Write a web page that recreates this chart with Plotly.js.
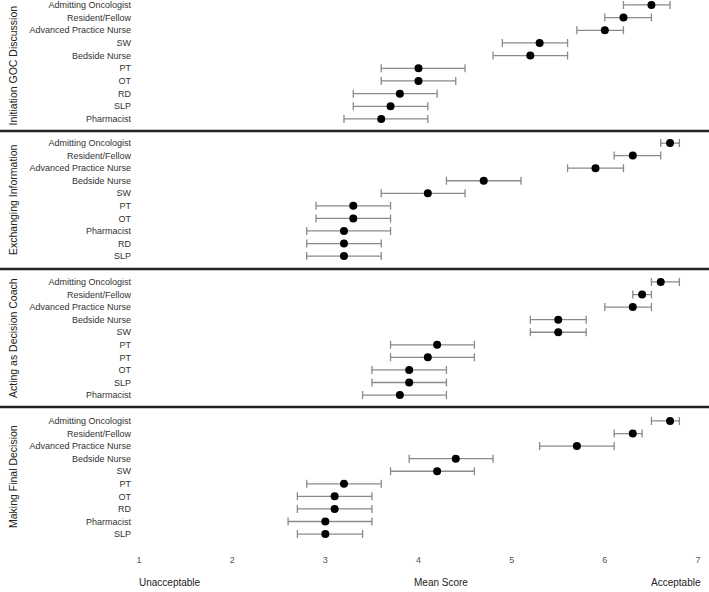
<!DOCTYPE html>
<html>
<head>
<meta charset="utf-8">
<script src="https://cdn.plot.ly/plotly-3.0.1.min.js"></script>
<style>html,body{margin:0;padding:0;background:#fff;}#chart{width:709px;height:592px;}</style>
</head>
<body>
<div id="chart"></div>
<script>
// Panel titles
const panelTitles = ["Initiation GOC Discussion", "Exchanging Information", "Acting as Decision Coach", "Making Final Decision"];

// Panel 1: Initiation GOC Discussion
const roles1 = ["Admitting Oncologist", "Resident/Fellow", "Advanced Practice Nurse", "SW", "Bedside Nurse", "PT", "OT", "RD", "SLP", "Pharmacist"];
const mean1  = [6.5, 6.2, 6.0, 5.3, 5.2, 4.0, 4.0, 3.8, 3.7, 3.6];
const low1   = [6.2, 6.0, 5.7, 4.9, 4.8, 3.6, 3.6, 3.3, 3.3, 3.2];
const high1  = [6.7, 6.5, 6.2, 5.6, 5.6, 4.5, 4.4, 4.2, 4.1, 4.1];

// Panel 2: Exchanging Information
const roles2 = ["Admitting Oncologist", "Resident/Fellow", "Advanced Practice Nurse", "Bedside Nurse", "SW", "PT", "OT", "Pharmacist", "RD", "SLP"];
const mean2  = [6.7, 6.3, 5.9, 4.7, 4.1, 3.3, 3.3, 3.2, 3.2, 3.2];
const low2   = [6.6, 6.1, 5.6, 4.3, 3.6, 2.9, 2.9, 2.8, 2.8, 2.8];
const high2  = [6.8, 6.6, 6.2, 5.1, 4.5, 3.7, 3.7, 3.7, 3.6, 3.6];

// Panel 3: Acting as Decision Coach
const roles3 = ["Admitting Oncologist", "Resident/Fellow", "Advanced Practice Nurse", "Bedside Nurse", "SW", "PT", "PT", "OT", "SLP", "Pharmacist"];
const mean3  = [6.6, 6.4, 6.3, 5.5, 5.5, 4.2, 4.1, 3.9, 3.9, 3.8];
const low3   = [6.5, 6.3, 6.0, 5.2, 5.2, 3.7, 3.7, 3.5, 3.5, 3.4];
const high3  = [6.8, 6.5, 6.5, 5.8, 5.8, 4.6, 4.6, 4.3, 4.3, 4.3];

// Panel 4: Making Final Decision
const roles4 = ["Admitting Oncologist", "Resident/Fellow", "Advanced Practice Nurse", "Bedside Nurse", "SW", "PT", "OT", "RD", "Pharmacist", "SLP"];
const mean4  = [6.7, 6.3, 5.7, 4.4, 4.2, 3.2, 3.1, 3.1, 3.0, 3.0];
const low4   = [6.5, 6.1, 5.3, 3.9, 3.7, 2.8, 2.7, 2.7, 2.6, 2.7];
const high4  = [6.8, 6.4, 6.1, 4.8, 4.6, 3.6, 3.5, 3.5, 3.5, 3.4];

// X axis ticks and labels
const xTicks = [1, 2, 3, 4, 5, 6, 7];
const scaleLabels = ["Unacceptable", "Mean Score", "Acceptable"];
const scaleLabelPos = [1.33, 4.24, 6.76];

const panels = [
  {roles: roles1, mean: mean1, low: low1, high: high1},
  {roles: roles2, mean: mean2, low: low2, high: high2},
  {roles: roles3, mean: mean3, low: low3, high: high3},
  {roles: roles4, mean: mean4, low: low4, high: high4}
];

// layout geometry (paper fractions)
const domains = [[0.7605, 1], [0.5082, 0.7605], [0.2559, 0.5082], [0, 0.2559]];
const ranges = [[9.95, -0.39], [10.03, -0.96], [9.95, -1.03], [10.03, -1.11]];

const catFont = {family: "Liberation Sans, Arial, sans-serif", size: 9, color: "#333"};

const traces = panels.map((p, i) => ({
  type: "scatter",
  mode: "markers",
  x: p.mean,
  y: p.mean.map((_, k) => k),
  xaxis: "x",
  yaxis: i === 0 ? "y" : "y" + (i + 1),
  marker: {color: "#000", size: 8},
  error_x: {
    type: "data",
    symmetric: false,
    array: p.high.map((h, k) => h - p.mean[k]),
    arrayminus: p.mean.map((m, k) => m - p.low[k]),
    color: "#8a8a8a",
    thickness: 1.3,
    width: 4
  },
  showlegend: false,
  hoverinfo: "x+text",
  text: p.roles
}));

const layout = {
  width: 709, height: 592,
  margin: {l: 139, r: 11, t: 0, b: 45},
  paper_bgcolor: "#fff", plot_bgcolor: "#fff",
  showlegend: false,
  xaxis: {
    range: [1, 7], anchor: "y4",
    tickvals: xTicks, ticktext: xTicks.map(String),
    showgrid: false, zeroline: false, showline: false, ticks: "",
    ticklabelstandoff: 6,
    tickfont: {family: "Liberation Sans, sans-serif", size: 9, color: "#555"}
  },
  shapes: [],
  annotations: []
};

panels.forEach((p, i) => {
  const key = i === 0 ? "yaxis" : "yaxis" + (i + 1);
  layout[key] = {
    domain: domains[i],
    range: ranges[i],
    anchor: "x",
    tickvals: p.roles.map((_, k) => k),
    ticktext: p.roles,
    showgrid: false, zeroline: false, showline: false, ticks: "",
    ticklabelstandoff: 7,
    ticklabeloverflow: "allow",
    tickfont: catFont
  };
  layout.annotations.push({
    xref: "paper", yref: "paper",
    x: -0.2254, y: (domains[i][0] + domains[i][1]) / 2,
    text: panelTitles[i], textangle: -90, showarrow: false,
    xanchor: "center", yanchor: "middle",
    font: {family: "Liberation Sans, Arial, sans-serif", size: 10.5, color: "#222"}
  });
  if (i > 0) {
    layout.shapes.push({
      type: "line", xref: "paper", yref: "paper",
      x0: -0.2487, x1: 1.0197, y0: domains[i][1], y1: domains[i][1],
      line: {color: "#222", width: 2.5}
    });
  }
});

scaleLabels.forEach((t, k) => {
  layout.annotations.push({
    xref: "x", yref: "paper", x: scaleLabelPos[k], y: -0.0658,
    text: t, showarrow: false, xanchor: "center", yanchor: "middle",
    font: {family: "Liberation Sans, sans-serif", size: 10, color: "#222"}
  });
});

Plotly.newPlot("chart", traces, layout, {displayModeBar: false, staticPlot: true});
</script>
</body>
</html>
